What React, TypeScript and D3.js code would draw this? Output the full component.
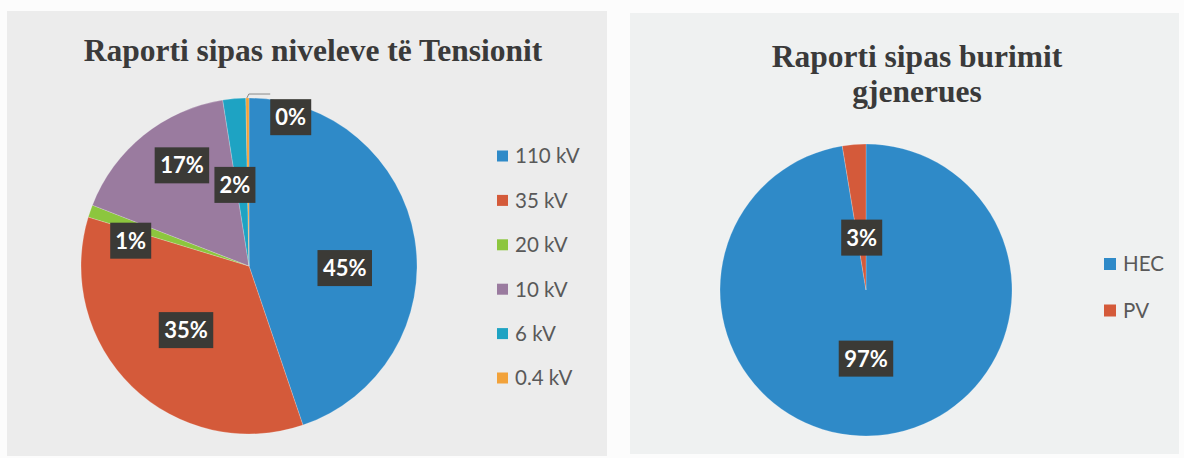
import React from "react";
import * as d3 from "d3";

// ---- data ----
const voltageLevels = ["110 kV", "35 kV", "20 kV", "10 kV", "6 kV", "0.4 kV"];
const voltageShares = [44.8, 34.9, 1.2, 16.6, 2.2, 0.3];
const voltageColors = ["#2f8ac8", "#d45a3a", "#8cc63e", "#9a7b9f", "#1ea3c3", "#f2a23a"];

const sourceNames = ["HEC", "PV"];
const sourceShares = [97.4, 2.6];
const sourceColors = ["#2f8ac8", "#d45a3a"];

const leftTitle = "Raporti sipas niveleve të Tensionit";
const rightTitle = ["Raporti sipas burimit", "gjenerues"];

// label placement (angle shift in degrees from slice middle, radius fraction)
const voltageLabelShift = [10.6, 0.4, -7, 5.2, -4.8, 16.2];
const voltageLabelRadius = [0.57, 0.535, 0.72, 0.72, 0.49, 0.92];
const sourceLabelShift = [4.7, 0];
const sourceLabelRadius = [0.47, 0.36];

const LABEL_FONT = "Lato, 'Open Sans', sans-serif";
const TITLE_FONT = "'Liberation Serif', 'Times New Roman', serif";

type PieProps = {
  cx: number;
  cy: number;
  r: number;
  values: number[];
  colors: string[];
  shifts: number[];
  radii: number[];
  leaderIndex?: number;
};

function Pie({ cx, cy, r, values, colors, shifts, radii, leaderIndex }: PieProps) {
  const pie = d3.pie<number>().sort(null).value((d) => d);
  const arcs = pie(values);
  const arcGen = d3.arc<d3.PieArcDatum<number>>().innerRadius(0).outerRadius(r);
  return (
    <g transform={`translate(${cx},${cy})`}>
      {arcs.map((a, i) => (
        <path key={i} d={arcGen(a) || ""} fill={colors[i]} stroke="#ffffff" strokeOpacity={0.35} strokeWidth={0.6} />
      ))}
      {arcs.map((a, i) => {
        const mid = (a.startAngle + a.endAngle) / 2 + (shifts[i] * Math.PI) / 180;
        const rr = radii[i] * r;
        const x = rr * Math.sin(mid);
        const y = -rr * Math.cos(mid);
        const txt = `${Math.round(values[i])}%`;
        const w = txt.length * 13.5 + 14;
        const h = 36;
        let leader = null;
        if (leaderIndex === i) {
          const ox = r * Math.sin(a.startAngle) + 1;
          const oy = -r * Math.cos(a.startAngle);
          leader = (
            <polyline
              points={`${ox},${oy} ${ox + 2},${oy - 4} ${x - w / 2},${oy - 4}`}
              fill="none"
              stroke="#8a8a8a"
              strokeWidth={1}
            />
          );
        }
        return (
          <g key={"l" + i}>
            {leader}
            <rect x={x - w / 2} y={y - h / 2} width={w} height={h} fill="#3b3a36" />
            <text
              x={x}
              y={y}
              dy="0.36em"
              textAnchor="middle"
              fill="#ffffff"
              fontFamily={LABEL_FONT}
              fontWeight={700}
              fontSize={22}
            >
              {txt}
            </text>
          </g>
        );
      })}
    </g>
  );
}

function Legend({ x, y, step, names, colors, size }: { x: number; y: number; step: number; names: string[]; colors: string[]; size: number }) {
  return (
    <g>
      {names.map((n, i) => (
        <g key={n} transform={`translate(${x},${y + i * step})`}>
          <rect x={0} y={-size / 2} width={size} height={size} fill={colors[i]} />
          <text x={size + 7} y={0} dy="0.36em" fill="#595959" fontFamily={LABEL_FONT} fontSize={20.5}>
            {n}
          </text>
        </g>
      ))}
    </g>
  );
}

export default function App() {
  return (
    <svg
      width={1184}
      height={458}
      style={{ position: "absolute", left: 0, top: 0, display: "block" }}
    >
      <rect x={0} y={0} width={1184} height={458} fill="#fcfcfc" />
      <rect x={7} y={11} width={600} height={445} fill="#ececec" />
      <rect x={630} y={13} width={549} height={441} fill="#eff1f1" />

      <text x={313} y={61} textAnchor="middle" fill="#3a3a3a" fontFamily={TITLE_FONT} fontWeight={700} fontSize={31.5}>
        {leftTitle}
      </text>
      <Pie
        cx={249}
        cy={266}
        r={168}
        values={voltageShares}
        colors={voltageColors}
        shifts={voltageLabelShift}
        radii={voltageLabelRadius}
        leaderIndex={5}
      />
      <Legend x={497} y={156} step={44.4} names={voltageLevels} colors={voltageColors} size={11} />

      {rightTitle.map((t, i) => (
        <text key={t} x={917} y={67 + i * 35} textAnchor="middle" fill="#3a3a3a" fontFamily={TITLE_FONT} fontWeight={700} fontSize={31.5}>
          {t}
        </text>
      ))}
      <Pie
        cx={866}
        cy={290}
        r={146}
        values={sourceShares}
        colors={sourceColors}
        shifts={sourceLabelShift}
        radii={sourceLabelRadius}
      />
      <Legend x={1104} y={264} step={46.5} names={sourceNames} colors={sourceColors} size={12} />
    </svg>
  );
}
